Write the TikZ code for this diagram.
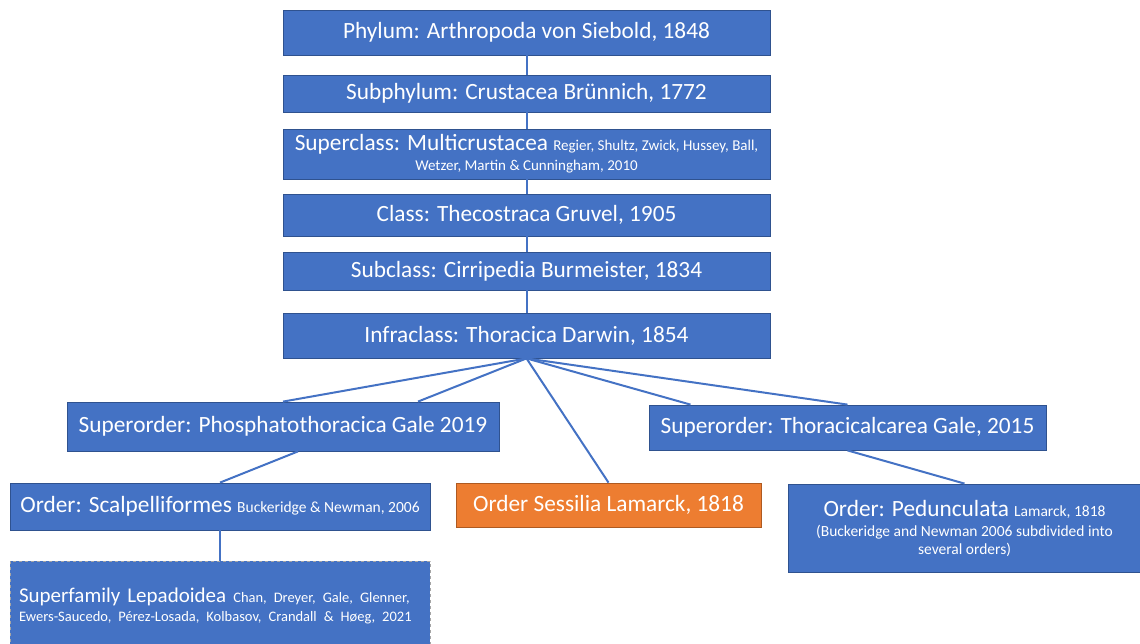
\documentclass[tikz,border=0pt]{standalone}
\usepackage{fontspec}
\setmainfont{Carlito}
\usetikzlibrary{positioning}
\definecolor{c1}{HTML}{4472C4}
\definecolor{c2}{HTML}{2F528F}
\definecolor{c3}{HTML}{ED7D31}
\definecolor{c4}{HTML}{AE5A21}
\definecolor{c5}{HTML}{A5A5A5}

\newcommand{\auth}[1]{{\fontsize{15.5}{18}\selectfont #1}}
\newcommand{\authsm}[1]{{\fontsize{15}{17}\selectfont #1}}
\newcommand{\authlp}[1]{{\fontsize{14.5}{17}\selectfont #1}}

\begin{document}
\begin{tikzpicture}[
    x=1pt, y=-1pt,
    every node/.style={font=\fontsize{23.3}{24}\selectfont, text=white, inner sep=0pt},
    taxon/.style={draw=c2, fill=c1, line width=0.8pt, minimum width=487},
    orange/.style={taxon, draw=c4, fill=c3},
    dashbox/.style={taxon, draw=c5, dashed},
    link/.style={draw=c1, line width=2pt},
]

\useasboundingbox (0,0) rectangle (1140,644);

% ---------------------------------------------------------------- the main line
\node[taxon, minimum height=45] (phylum) at (526.5, 32.5) {Phylum: Arthropoda von Siebold, 1848};
\node[taxon, minimum height=37] (subphylum) at (526.5, 93.5) {Subphylum: Crustacea Brünnich, 1772};
\node[taxon, minimum height=50, align=center] (superclass) at (526.5, 154)
    {Superclass: Multicrustacea \authsm{Regier, Shultz, Zwick, Hussey, Ball,}\\[-4pt]
     \authsm{Wetzer, Martin \& Cunningham, 2010}};
\node[taxon, minimum height=42] (class) at (526.5, 215) {Class: Thecostraca Gruvel, 1905};
\node[taxon, minimum height=38] (subclass) at (526.5, 271) {Subclass: Cirripedia Burmeister, 1834};
\node[taxon, minimum height=45] (infra) at (526.5, 335.5) {Infraclass: Thoracica Darwin, 1854};

\foreach \a/\b in {phylum/subphylum, subphylum/superclass, superclass/class, class/subclass, subclass/infra}{
    \draw[link] (\a) -- (\b);
}

% ---------------------------------------------------------------- superorders
\node[taxon, minimum width=432, minimum height=49] (phos) at (283, 426.5)
    {Superorder: Phosphatothoracica Gale 2019};
\node[taxon, minimum width=397, minimum height=45] (thor) at (847.5, 427.5)
    {Superorder: Thoracicalcarea Gale, 2015};

% ---------------------------------------------------------------- orders
\node[taxon, minimum width=420, minimum height=47] (scalp) at (220, 506.5)
    {Order: Scalpelliformes \auth{Buckeridge \& Newman, 2006}};
\node[orange, minimum width=305, minimum height=44] (sess) at (608.5, 505)
    {Order Sessilia Lamarck, 1818};
\node[taxon, minimum width=353, minimum height=88, align=center] (ped) at (964.5, 528)
    {Order: Pedunculata \auth{Lamarck, 1818}\\[-4pt]
     \auth{(Buckeridge and Newman 2006 subdivided into}\\[-6pt]
     \auth{several orders)}};

% ---------------------------------------------------------------- superfamily
\node[dashbox, minimum width=420, minimum height=90, text width=402, align=left,
      font=\fontsize{21}{19}\selectfont] (lepa) at (220, 606)
    {\makebox[402pt][s]{Superfamily Lepadoidea \authlp{Chan, Dreyer, Gale, Glenner,}}\\
     \makebox[402pt][l]{\authlp{Ewers-Saucedo, Pérez-Losada, Kolbasov, Crandall \& Høeg, 2021}}};

% ---------------------------------------------------------------- connectors
\draw[link] (infra.south) -- (phos.north);
\draw[link] (infra.south) -- ([xshift=135]phos.north);
\draw[link] (infra.south) -- (sess.north);
\draw[link] (infra.south) -- ([xshift=-157]thor.north);
\draw[link] (infra.south) -- (thor.north);
\draw[link] ([xshift=15]phos.south) -- (scalp.north);
\draw[link] (thor.south) -- (ped.north);
\draw[link] (scalp) -- (lepa);

\end{tikzpicture}
\end{document}
